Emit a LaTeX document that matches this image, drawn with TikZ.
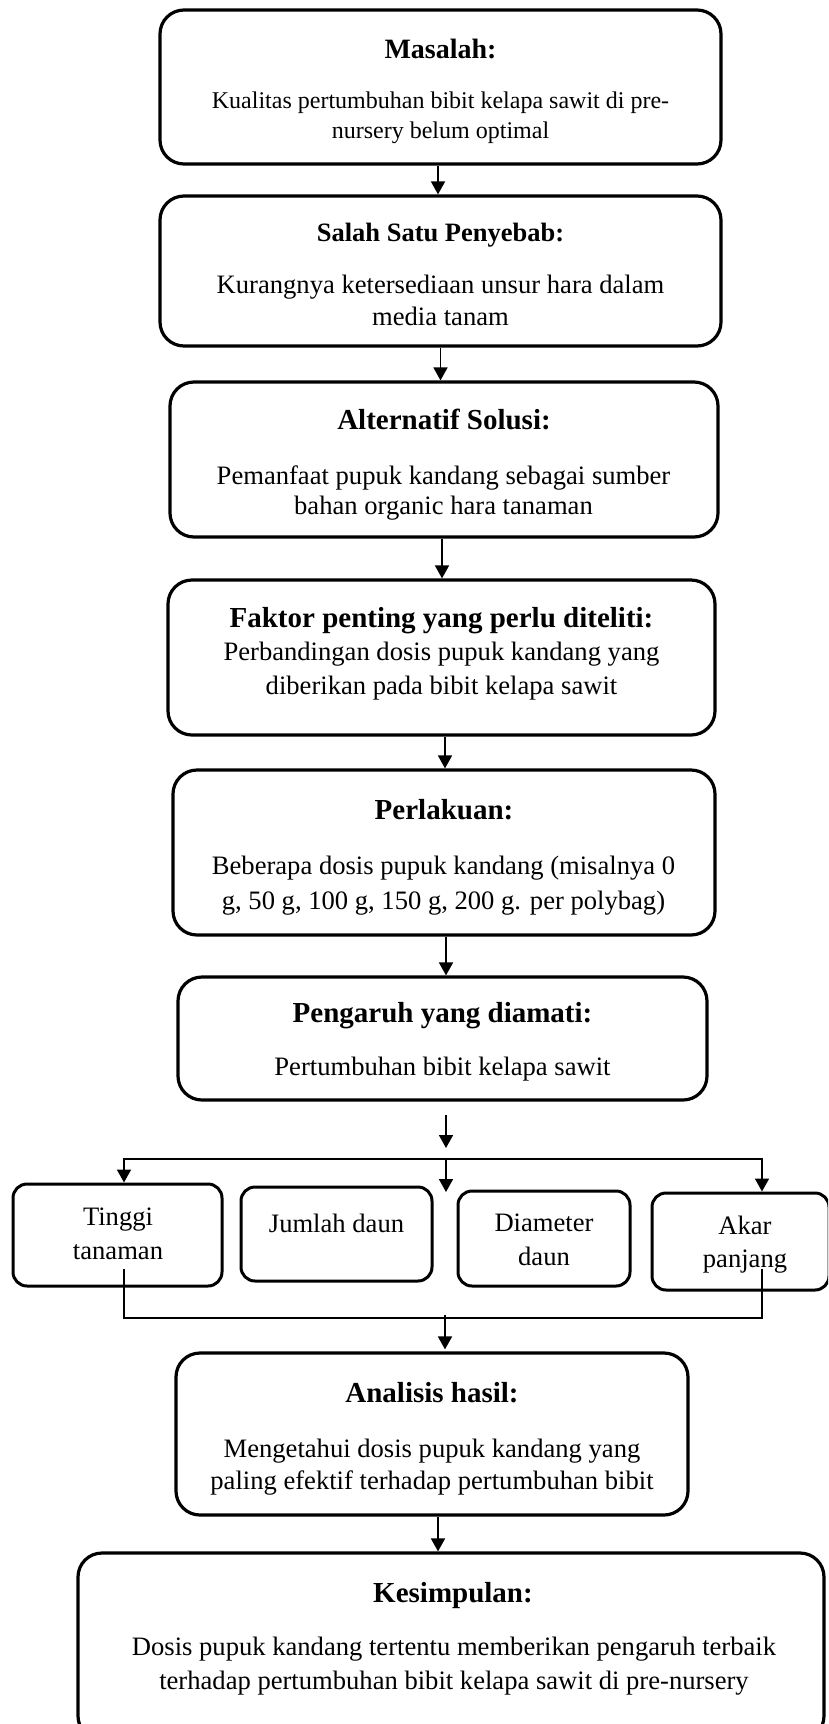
\documentclass[tikz,border=0pt]{standalone}
\usepackage{fontspec}
\setmainfont{Liberation Serif}
\usetikzlibrary{arrows.meta}
\tikzset{
  box/.style={draw, line width=3.2pt, rounded corners=24pt, inner sep=0pt},
  sbox/.style={draw, line width=3pt, rounded corners=14pt, inner sep=0pt},
  ttl/.style={anchor=base, inner sep=0pt, font=\fontsize{#1}{#1}\selectfont\bfseries},
  ttl/.default=29,
  bdy/.style={anchor=base, inner sep=0pt, font=\fontsize{#1}{#1}\selectfont},
  bdy/.default=26.6,
  conn/.style={line width=1.7pt},
  arr/.style={conn, -{Triangle[length=13pt,width=14pt]}},
}
\begin{document}
\begin{tikzpicture}[x=1pt, y=-1pt]
\useasboundingbox (0,0) rectangle (828,1724);
\fill[white] (0,0) rectangle (828,1724);
\clip (0,0) rectangle (828,1724);

% main boxes
\node[box, minimum width=561pt, minimum height=154pt] (b1) at (440.5,87) {};
\node[box, minimum width=561pt, minimum height=150pt] (b2) at (440.5,271) {};
\node[box, minimum width=548pt, minimum height=155pt] (b3) at (444,459.5) {};
\node[box, minimum width=547pt, minimum height=155pt] (b4) at (441.5,657.5) {};
\node[box, minimum width=542pt, minimum height=165pt] (b5) at (444,852.5) {};
\node[box, minimum width=529pt, minimum height=123pt] (b6) at (442.5,1038.5) {};
\node[box, minimum width=512pt, minimum height=162pt] (b8) at (432,1434) {};
\node[box, minimum width=746pt, minimum height=187pt] (b9) at (451,1646.5) {};

% small boxes
\node[sbox, minimum width=209pt, minimum height=102pt] (s1) at (117.5,1235) {};
\node[sbox, minimum width=191pt, minimum height=94pt] (s2) at (336.5,1234) {};
\node[sbox, minimum width=172pt, minimum height=95pt] (s3) at (544,1238.5) {};
\node[sbox, minimum width=177pt, minimum height=97pt] (s4) at (740.5,1241.5) {};

% texts box 1
\node[ttl=28] (t1) at (440.5,58) {Masalah:};
\node[bdy=24] (t1a) at (440.5,108.5) {Kualitas pertumbuhan bibit kelapa sawit di pre-};
\node[bdy=24] (t1b) at (440.5,138.5) {nursery belum optimal};
% box 2
\node[ttl=26.5] (t2) at (440.5,241) {Salah Satu Penyebab:};
\node[bdy] (t2a) at (440.5,293) {Kurangnya ketersediaan unsur hara dalam};
\node[bdy] (t2b) at (440.5,325) {media tanam};
% box 3
\node[ttl] (t3) at (444,429.5) {Alternatif Solusi:};
\node[bdy] (t3a) at (443.5,484) {Pemanfaat pupuk kandang sebagai sumber};
\node[bdy] (t3b) at (443.5,514) {bahan organic hara tanaman};
% box 4
\node[ttl] (t4) at (441.5,627.5) {Faktor penting yang perlu diteliti:};
\node[bdy] (t4a) at (441.5,660) {Perbandingan dosis pupuk kandang yang};
\node[bdy] (t4b) at (441.5,694) {diberikan pada bibit kelapa sawit};
% box 5
\node[ttl] (t5) at (444,819.5) {Perlakuan:};
\node[bdy] (t5a) at (443.5,874) {Beberapa dosis pupuk kandang (misalnya 0};
\node[bdy] (t5b) at (443.5,909) {g, 50 g, 100 g, 150 g, 200 g. per polybag)};
% box 6
\node[ttl] (t6) at (442.5,1022.5) {Pengaruh yang diamati:};
\node[bdy] (t6a) at (442.5,1075) {Pertumbuhan bibit kelapa sawit};
% small boxes
\node[bdy] (u1a) at (118,1225) {Tinggi};
\node[bdy] (u1b) at (118,1259) {tanaman};
\node[bdy] (u2a) at (336.5,1232) {Jumlah daun};
\node[bdy] (u3a) at (544,1231) {Diameter};
\node[bdy] (u3b) at (544,1265) {daun};
\node[bdy] (u4a) at (745,1234) {Akar};
\node[bdy] (u4b) at (745,1267) {panjang};
% box 8
\node[ttl] (t8) at (432,1402.5) {Analisis hasil:};
\node[bdy] (t8a) at (432,1457) {Mengetahui dosis pupuk kandang yang};
\node[bdy] (t8b) at (432,1489) {paling efektif terhadap pertumbuhan bibit};
% box 9
\node[ttl] (t9) at (453,1602.5) {Kesimpulan:};
\node[bdy] (t9a) at (454,1655) {Dosis pupuk kandang tertentu memberikan pengaruh terbaik};
\node[bdy] (t9b) at (454,1689) {terhadap pertumbuhan bibit kelapa sawit di pre-nursery};

% connectors
\draw[arr] ([xshift=-2.5pt]b1.south) -- ([xshift=-2.5pt]b1.south |- b2.north);
\draw[arr] (b2.south) -- (b2.south |- b3.north);
\draw[arr] ([xshift=-2pt]b3.south) -- ([xshift=-2pt]b3.south |- b4.north);
\draw[arr] ([xshift=3.5pt]b4.south) -- ([xshift=3.5pt]b4.south |- b5.north);
\draw[arr] ([xshift=2pt]b5.south) -- ([xshift=2pt]b5.south |- b6.north);

\coordinate (a6s) at (446,1115);
\coordinate (a6e) at (446,1148);
\draw[arr] (a6s) -- (a6e);

\coordinate (sp) at (446,1159);
\coordinate (spl) at (124,1159);
\coordinate (spr) at (762,1159);
\coordinate (spc) at (446,1192);
\draw[arr] (sp) -- (spl) -- (spl |- s1.north);
\draw[arr] (sp) -- (spr) -- (spr |- s4.north);
\draw[arr] (sp) -- (spc);

\coordinate (ml) at (124,1269);
\coordinate (mr) at (762,1269);
\coordinate (mb) at (445,1318);
\draw[conn] (ml) -- (ml |- mb) -- (mr |- mb) -- (mr);
\coordinate (m2) at (445,1315);
\draw[arr] (m2) -- ([yshift=2pt]m2 |- b8.north);

\draw[arr] ([xshift=6pt]b8.south) -- ([xshift=6pt]b8.south |- b9.north);
\end{tikzpicture}
\end{document}
